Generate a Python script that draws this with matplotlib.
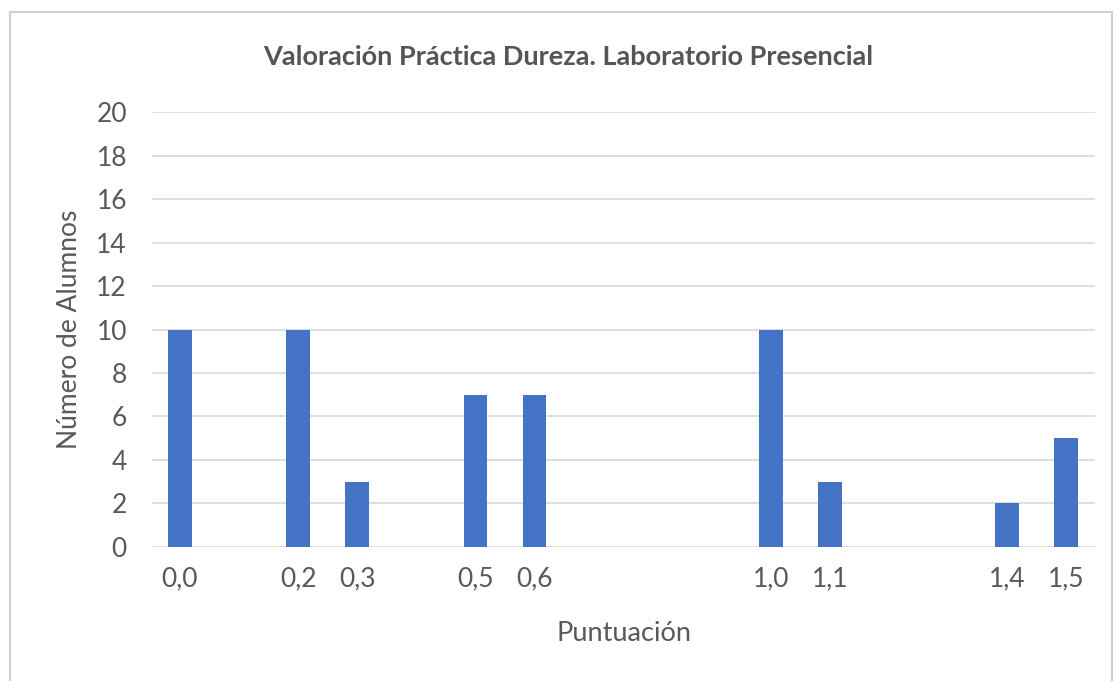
import matplotlib
matplotlib.use("Agg")
import matplotlib.pyplot as plt
from matplotlib.patches import Rectangle

# data
puntuacion = [0.0, 0.2, 0.3, 0.5, 0.6, 1.0, 1.1, 1.4, 1.5]
alumnos = [10, 10, 3, 7, 7, 10, 3, 2, 5]
tick_labels = ["0,0", "0,2", "0,3", "0,5", "0,6", "1,0", "1,1", "1,4", "1,5"]

plt.rcParams["font.family"] = ["Lato", "DejaVu Sans"]
text_color = "#595959"

fig = plt.figure(figsize=(11.16, 6.81), dpi=100)
ax = fig.add_axes([0.1362, 0.1968, 0.8450, 0.6387])

# chart frame
fig.patches.append(Rectangle((10 / 1116, -0.05), 1102 / 1116, 1.05 - 12 / 681,
                             transform=fig.transFigure, fill=False,
                             edgecolor="#D0D0D0", linewidth=1.5))

ax.bar(puntuacion, alumnos, width=0.04, color="#4472C4", zorder=3)

ax.set_xlim(-0.0474, 1.549)
ax.set_ylim(0, 20)
ax.set_yticks(range(0, 21, 2))
ax.set_xticks(puntuacion)
ax.set_xticklabels(tick_labels)
ax.grid(axis="y", color="#D9D9D9", linewidth=1.2, zorder=0)
for s in ax.spines.values():
    s.set_visible(False)
ax.tick_params(length=0, labelsize=19, labelcolor=text_color)
ax.tick_params(axis="x", pad=14)
ax.tick_params(axis="y", pad=18)

# title sits a bit left of the plot centre, as in the chart area
fig.text(568 / 1116, 1 - 57 / 681, "Valoración Práctica Dureza. Laboratorio Presencial",
         fontsize=19.5, fontweight="bold", color="#555555", ha="center", va="center")
ax.set_xlabel("Puntuación", fontsize=19.5, color=text_color, labelpad=21)
ax.set_ylabel("Número de Alumnos", fontsize=19, color=text_color, labelpad=10)

fig.savefig("out.png", dpi=100)
